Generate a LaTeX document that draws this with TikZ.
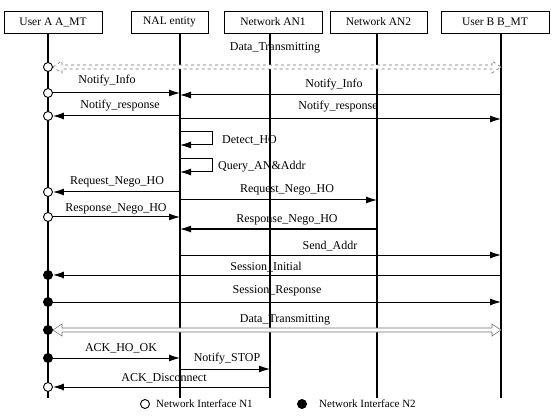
\documentclass[tikz,border=0pt]{standalone}
\usepackage{fontspec}
\setmainfont{Liberation Serif}
\usetikzlibrary{arrows.meta}
\newcommand\hollowarr[3][]{%
  \draw[#1] (#2) -- ++(9,-6) -- ++(0,4) -- ([shift={(-9,-2)}]#3) -- ++(0,-4) -- (#3)
   -- ++(-9,6) -- ++(0,-4) -- ([shift={(9,2)}]#2) -- ++(0,4) -- cycle;}
\begin{document}
\begin{tikzpicture}[x=1pt,y=-1pt, font=\fontsize{12}{14}\selectfont,
  box/.style={draw, line width=0.8pt, minimum height=22pt, inner sep=0pt, font=\fontsize{11.5}{13}\selectfont},
  life/.style={line width=1.2pt},
  msg/.style={line width=1pt, -{Latex[length=11pt,width=7pt]}},
  lbl/.style={inner sep=0pt},
  ocirc/.style={circle, draw, fill=white, minimum size=9pt, inner sep=0pt, line width=0.9pt},
  fcirc/.style={circle, draw, fill=black, minimum size=9pt, inner sep=0pt, line width=0.9pt},
  data/.style={draw=black!55, line width=0.6pt, fill=white}]
\useasboundingbox (0,0) rectangle (552,417);
% boxes
\node[box, minimum width=98pt] (ba) at (53,22) {User A A\_MT};
\node[box, minimum width=77pt] (bn) at (169.5,22) {NAL entity};
\node[box, minimum width=98pt] (b1) at (273,22) {Network AN1};
\node[box, minimum width=97pt] (b2) at (378.5,22) {Network AN2};
\node[box, minimum width=108pt] (bb) at (495,22) {User B B\_MT};
% lifelines
\coordinate (la) at (48,33);   \coordinate (lae) at (48,398);
\coordinate (ln) at (180,33);  \coordinate (lne) at (180,398);
\coordinate (l1) at (270,33);  \coordinate (l1e) at (270,398);
\coordinate (l2) at (377,33);  \coordinate (l2e) at (377,398);
\coordinate (lb) at (501,33);  \coordinate (lbe) at (501,398);
\foreach \s/\e in {la/lae,ln/lne,l1/l1e,l2/l2e,lb/lbe} \draw[life] (\s) -- (\e);
% interface circles on A
\node[ocirc] (c1) at (la |- 0,67) {};
\node[ocirc] (c2) at (la |- 0,93) {};
\node[ocirc] (c3) at (la |- 0,116) {};
\node[ocirc] (c4) at (la |- 0,192) {};
\node[ocirc] (c5) at (la |- 0,217) {};
\node[fcirc] (c6) at (la |- 0,275) {};
\node[fcirc] (c7) at (la |- 0,302) {};
\node[fcirc] (c8) at (la |- 0,330) {};
\node[fcirc] (c9) at (la |- 0,358) {};
\node[ocirc] (c10) at (la |- 0,387) {};
% messages
\hollowarr[data, dashed]{c1.east}{lb |- c1}
\node[lbl] (t1) at (275,48) {Data\_Transmitting};
\draw[msg] (c2.east) -- (ln |- c2);
\node[lbl] (t2) at (107,81) {Notify\_Info};
\draw[msg] (lb |- 0,95) -- (ln |- 0,95);
\node[lbl] (t3) at (334,85) {Notify\_Info};
\draw[msg] (ln |- c3) -- (c3.east);
\node[lbl] (t4) at (120,106) {Notify\_response};
\draw[msg] (ln |- 0,119) -- (lb |- 0,119);
\node[lbl] (t5) at (338,107) {Notify\_response};
\draw[msg] (ln |- 0,132) -- (212,132) -- (212,145) -- (ln |- 0,145);
\node[lbl, anchor=west] (t6) at (222,140) {Detect\_HO};
\draw[msg] (ln |- 0,159) -- (212,159) -- (212,172) -- (ln |- 0,172);
\node[lbl, anchor=west] (t7) at (218,167) {Query\_AN\&Addr};
\draw[msg] (ln |- c4) -- (c4.east);
\node[lbl] (t8) at (117,182) {Request\_Nego\_HO};
\draw[msg] (ln |- 0,200) -- (l2 |- 0,200);
\node[lbl] (t9) at (287,190) {Request\_Nego\_HO};
\draw[msg] (c5.east) -- (ln |- c5);
\node[lbl] (t10) at (116,209) {Response\_Nego\_HO};
\draw[msg] (l2 |- 0,229) -- (ln |- 0,229);
\node[lbl] (t11) at (287,220) {Response\_Nego\_HO};
\draw[msg] (ln |- 0,255) -- (lb |- 0,255);
\node[lbl] (t12) at (330,246) {Send\_Addr};
\draw[msg] (lb |- c6) -- (c6.east);
\node[lbl] (t13) at (266,267) {Session\_Initial};
\draw[msg] (c7.east) -- (lb |- c7);
\node[lbl] (t14) at (277,291) {Session\_Response};
\hollowarr[data]{c8.east}{lb |- c8}
\node[lbl] (t15) at (285,320) {Data\_Transmitting};
\draw[msg] (c9.east) -- (ln |- c9);
\node[lbl] (t16) at (121,348) {ACK\_HO\_OK};
\draw[msg] (ln |- 0,369) -- (l1 |- 0,369);
\node[lbl] (t17) at (227,359) {Notify\_STOP};
\draw[msg] (l1 |- c10) -- (c10.east);
\node[lbl] (t18) at (164,378) {ACK\_Disconnect};
% legend
\node[ocirc] (k1) at (145,404) {};
\node[lbl, anchor=west, font=\fontsize{11}{13}\selectfont] (k1t) at (156,404) {Network Interface N1};
\node[fcirc] (k2) at (302,404) {};
\node[lbl, anchor=west, font=\fontsize{11}{13}\selectfont] (k2t) at (319,404) {Network Interface N2};
\end{tikzpicture}
\end{document}
